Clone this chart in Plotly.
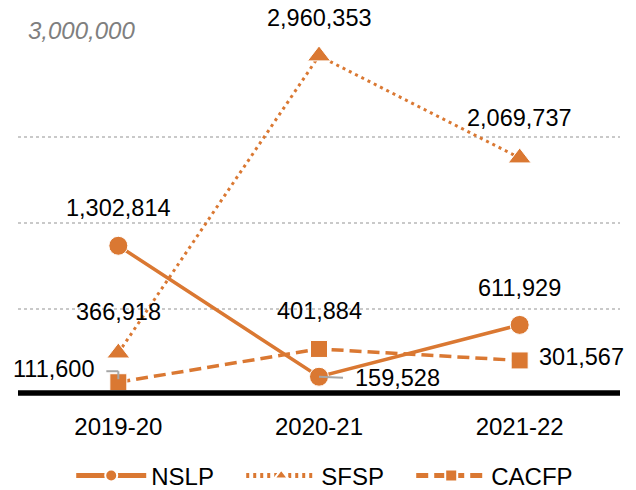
import plotly.graph_objects as go

years = ["2019-20", "2020-21", "2021-22"]
nslp = [1302814, 159528, 611929]
sfsp = [366918, 2960353, 2069737]
cacfp = [111600, 401884, 301567]
grid_vals = [750000, 1500000, 2250000, 3000000]
top_label = "3,000,000"

ORANGE = "#DA7832"
FONT = "Liberation Sans, Arial, sans-serif"

fig = go.Figure()
fig.add_trace(go.Scatter(x=years, y=nslp, name="NSLP", mode="lines+markers",
                         line=dict(color=ORANGE, width=3.5, dash="solid"),
                         marker=dict(symbol="circle", size=19, color=ORANGE,
                                     line=dict(color="white", width=1)),
                         cliponaxis=False))
fig.add_trace(go.Scatter(x=years, y=sfsp, name="SFSP", mode="lines+markers",
                         line=dict(color=ORANGE, width=3, dash="3px,4px"),
                         marker=dict(symbol="triangle-up", size=20, color=ORANGE,
                                     line=dict(color="white", width=1)),
                         cliponaxis=False))
fig.add_trace(go.Scatter(x=years, y=cacfp, name="CACFP", mode="lines+markers",
                         line=dict(color=ORANGE, width=3.5, dash="12px,6px"),
                         marker=dict(symbol="square", size=17, color=ORANGE,
                                     line=dict(color="white", width=1)),
                         cliponaxis=False))

def fmt(v):
    return f"{v:,}"

# (series, index, xanchor, xshift, yshift)
label_specs = [
    (sfsp, 0, "center", 0, 41),
    (sfsp, 1, "center", 0, 38),
    (sfsp, 2, "center", 0, 40),
    (nslp, 0, "center", 0, 38),
    (nslp, 1, "left", 34, -1),
    (nslp, 2, "center", 0, 37),
    (cacfp, 0, "right", -22, 13),
    (cacfp, 1, "center", 0, 38),
    (cacfp, 2, "left", 17, 3),
]
annotations = []
for series, i, xa, xs, ys in label_specs:
    annotations.append(dict(x=years[i], y=series[i], xref="x", yref="y",
                            text=fmt(series[i]), showarrow=False,
                            xanchor=xa, yanchor="middle", xshift=xs, yshift=ys,
                            font=dict(family=FONT, size=23.5, color="black")))
annotations.append(dict(x=0, y=grid_vals[-1], xref="paper", yref="y",
                        text=top_label, showarrow=False, xanchor="left",
                        yanchor="middle", xshift=8, yshift=21,
                        font=dict(family=FONT, size=24, color="#7f7f7f",
                                  style="italic")))

shapes = [
    dict(type="line", xref="paper", yref="paper", x0=0, x1=1, y0=0.006, y1=0.006,
         line=dict(color="black", width=5.5), layer="above"),
    # leader lines
    dict(type="line", xref="x", yref="y", xsizemode="pixel", ysizemode="pixel",
         xanchor=0, yanchor=cacfp[0], x0=-12, x1=0, y0=11, y1=11,
         line=dict(color="#a6a6a6", width=2)),
    dict(type="line", xref="x", yref="y", xsizemode="pixel", ysizemode="pixel",
         xanchor=0, yanchor=cacfp[0], x0=0, x1=0, y0=11, y1=3,
         line=dict(color="#a6a6a6", width=2)),
    dict(type="line", xref="x", yref="y", xsizemode="pixel", ysizemode="pixel",
         xanchor=1, yanchor=nslp[1], x0=0, x1=24, y0=0, y1=-1,
         line=dict(color="#a6a6a6", width=2)),
]

fig.update_layout(
    width=636, height=490,
    margin=dict(l=10, r=24, t=43, b=103, autoexpand=False),
    paper_bgcolor="white", plot_bgcolor="white",
    font=dict(family=FONT, size=23, color="black"),
    showlegend=True,
    legend=dict(orientation="h", x=0.512, xanchor="center",
                yref="container", y=0.045, yanchor="middle",
                bgcolor="rgba(0,0,0,0)",
                font=dict(family=FONT, size=24, color="black"),
                itemwidth=70, itemsizing="constant",
                entrywidth=85, entrywidthmode="pixels", tracegroupgap=0),
    annotations=annotations,
    shapes=shapes,
)
fig.update_xaxes(type="category", range=[-0.5, 2.5], showgrid=False,
                 showline=False, zeroline=False, ticks="outside", ticklen=10,
                 tickcolor="rgba(0,0,0,0)", automargin=False,
                 tickfont=dict(family=FONT, size=24, color="black"))
fig.update_yaxes(range=[0, 3003000], tickvals=grid_vals, showticklabels=False,
                 showgrid=True, gridcolor="#c9c9c9", griddash="dot", gridwidth=1.5,
                 zeroline=False, showline=False, automargin=False)

fig.write_html("out.html")
